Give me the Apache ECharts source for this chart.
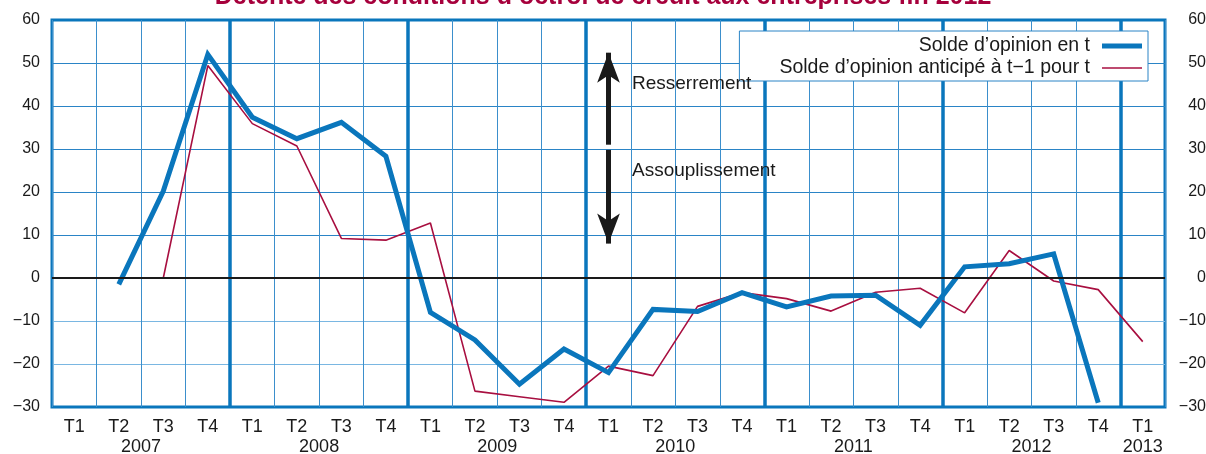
<!DOCTYPE html>
<html>
<head>
<meta charset="utf-8">
<script src="https://cdn.jsdelivr.net/npm/echarts@6/dist/echarts.min.js"></script>
<style>
  html, body { margin: 0; padding: 0; background: #fff; }
  #chart { width: 1206px; height: 454px; }
</style>
</head>
<body>
<div id="chart"></div>
<script type="text/javascript">
  // trimestres 2007 T1 -> 2013 T1
  var quarters = ['T1', 'T2', 'T3', 'T4', 'T1', 'T2', 'T3', 'T4', 'T1', 'T2', 'T3', 'T4',
    'T1', 'T2', 'T3', 'T4', 'T1', 'T2', 'T3', 'T4', 'T1', 'T2', 'T3', 'T4', 'T1'];
  var years = ['2007', '2008', '2009', '2010', '2011', '2012', '2013'];
  // position des années sur l'axe des demi-trimestres (51 points)
  var yearSlots = [4, 12, 20, 28, 36, 44, 49];

  var soldeT = [null, -1.5, 20.2, 52, 37.4, 32.4, 36.2, 28.3, -8, -14.4, -24.7, -16.5,
    -22, -7.3, -7.8, -3.4, -6.7, -4.2, -4, -11, 2.6, 3.3, 5.6, -29, null];
  var soldeAnticipe = [null, null, 0, 49.4, 35.9, 30.7, 9.2, 8.8, 12.8, -26.3, -27.6, -28.9,
    -20.5, -22.7, -6.6, -3.4, -4.8, -7.7, -3.3, -2.4, -8.1, 6.4, -0.7, -2.7, -14.8];

  var yTicks = [-30, 60, 10];

  var blue = '#0a76bc';
  var red = '#a80f40';
  var font = 'Liberation Sans';

  var yearAxisData = [];
  for (var j = 0; j <= 50; j++) yearAxisData.push('');
  yearSlots.forEach(function (s, i) { yearAxisData[s] = years[i]; });

  function fmt(v) {
    return v < 0 ? '\u2212' + Math.abs(v) : String(v);
  }

  var myChart = echarts.init(document.getElementById('chart'), null, {renderer: 'canvas'});
  var option = {
    animation: false,
    textStyle: {fontFamily: font},
    title: {
      text: 'Détente des conditions d\u2019octroi de crédit aux entreprises fin 2012',
      left: 'center',
      top: -20,
      textStyle: {color: '#a6003c', fontSize: 25, fontWeight: 'bold', fontFamily: font}
    },
    legend: {
      orient: 'vertical',
      right: 58,
      top: 31,
      align: 'right',
      itemWidth: 40,
      itemHeight: 14,
      itemGap: 2,
      padding: [5, 6, 3, 40],
      backgroundColor: '#fff',
      borderColor: '#2a84c6',
      borderWidth: 1,
      textStyle: {fontSize: 19.5, color: '#1a1a1a', fontFamily: font, padding: [0, 7, 0, 0]},
      data: [
        {name: 'Solde d\u2019opinion en t', icon: 'path://M0,0M0,4.5H40V9.5H0ZM40,14'},
        {name: 'Solde d\u2019opinion anticipé à t\u22121 pour t', icon: 'path://M0,0M0,6.2H40V7.8H0ZM40,14'}
      ]
    },
    grid: {
      left: 52, right: 41, top: 20, bottom: 47,
      outerBoundsMode: 'none',
      containLabel: false,
      show: true, borderColor: blue, borderWidth: 3
    },
    xAxis: [
      {
        type: 'category',
        data: quarters,
        boundaryGap: true,
        axisLine: {show: false},
        axisTick: {show: false},
        axisLabel: {interval: 0, margin: 11, fontSize: 18, color: '#1a1a1a', fontFamily: font},
        splitLine: {show: true, interval: 0, lineStyle: {color: '#3b8fcc', width: 1}}
      },
      {
        type: 'category',
        data: yearAxisData,
        boundaryGap: false,
        position: 'bottom',
        axisLine: {show: false},
        axisTick: {show: false},
        axisLabel: {
          interval: function (i) { return yearSlots.indexOf(i) >= 0; },
          margin: 31, fontSize: 18, color: '#1a1a1a', fontFamily: font
        },
        splitLine: {
          show: true,
          interval: function (i) { return i > 0 && i < 50 && i % 8 === 0; },
          lineStyle: {color: blue, width: 3.5}
        }
      }
    ],
    yAxis: [
      {
        type: 'value', min: yTicks[0], max: yTicks[1], interval: yTicks[2],
        axisLine: {show: false}, axisTick: {show: false},
        axisLabel: {formatter: fmt, margin: 12, fontSize: 16, color: '#1a1a1a', fontFamily: font},
        splitLine: {
          lineStyle: {
            width: 1.2,
            color: [blue, '#7ab7e2', '#7ab7e2', '#1a1a1a', '#2a84c6', '#2a84c6',
              '#2a84c6', '#2a84c6', '#2a84c6', blue]
          }
        }
      },
      {
        type: 'value', min: yTicks[0], max: yTicks[1], interval: yTicks[2], position: 'right',
        axisLine: {show: false}, axisTick: {show: false},
        axisLabel: {formatter: fmt, margin: 41, align: 'right', fontSize: 16, color: '#1a1a1a', fontFamily: font},
        splitLine: {show: false}
      }
    ],
    series: [
      {
        name: 'Solde d\u2019opinion en t',
        type: 'line',
        data: soldeT,
        symbol: 'none',
        z: 4,
        lineStyle: {color: blue, width: 5, join: 'miter'},
        itemStyle: {color: blue},
        markLine: {
          silent: true,
          symbol: 'none',
          label: {show: false},
          data: [
            {yAxis: 0, lineStyle: {color: '#1a1a1a', width: 2, type: 'solid'}},
            [
              {coord: [12, 31], symbol: 'none', lineStyle: {color: '#1a1a1a', width: 5, type: 'solid'}},
              {coord: [12, 52.4], symbol: 'arrow', symbolSize: [17, 30]}
            ],
            [
              {coord: [12, 29.8], symbol: 'none', lineStyle: {color: '#1a1a1a', width: 5, type: 'solid'}},
              {coord: [12, 8], symbol: 'arrow', symbolSize: [17, 30]}
            ]
          ]
        },
        markPoint: {
          silent: true,
          symbol: 'circle',
          symbolSize: 1,
          itemStyle: {color: 'rgba(0,0,0,0)'},
          label: {show: true, position: 'right', distance: 23, fontSize: 19, color: '#1a1a1a', fontFamily: font},
          data: [
            {coord: [12, 45.2], label: {formatter: 'Resserrement'}},
            {coord: [12, 25], label: {formatter: 'Assouplissement'}}
          ]
        }
      },
      {
        name: 'Solde d\u2019opinion anticipé à t\u22121 pour t',
        type: 'line',
        data: soldeAnticipe,
        symbol: 'none',
        z: 3,
        lineStyle: {color: red, width: 1.6},
        itemStyle: {color: red}
      }
    ]
  };
  myChart.setOption(option);
</script>
</body>
</html>
